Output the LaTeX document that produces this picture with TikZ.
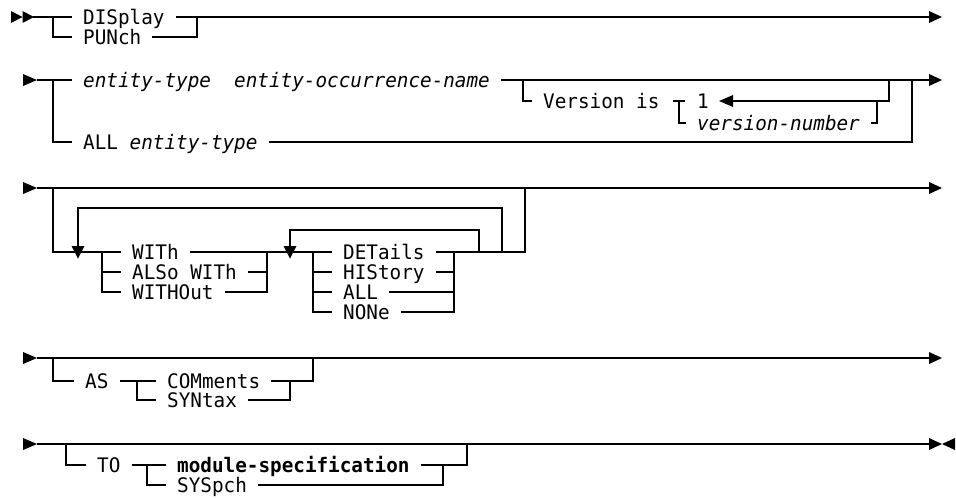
\documentclass[tikz,border=0pt]{standalone}
\usepackage{fontspec}
\newfontfamily\rrfont{DejaVu Sans Mono}[FakeStretch=0.965]

\tikzset{
  track/.style={line width=1.9pt},
  kw/.style={font=\rrfont\fontsize{20}{21}\selectfont, inner xsep=11pt, inner ysep=0pt,
             text height=14.6pt, text depth=0pt, anchor=west},
  var/.style={kw, font=\rrfont\itshape\fontsize{20}{21}\selectfont},
  req/.style={kw, font=\rrfont\bfseries\fontsize{20}{21}\selectfont},
}

\begin{document}
\begin{tikzpicture}[x=1pt,y=-1pt]
\useasboundingbox (0,0) rectangle (956,498);

% ---------------- row 1: DISplay / PUNch
\fill (11,11) -- (22.5,17) -- (11,23) -- cycle;
\fill (22.5,11) -- (34,17) -- (22.5,23) -- cycle;
\coordinate (a0) at (33,17);
\coordinate (a1) at (53,17);
\coordinate (a2) at (197,17);
\coordinate (aend) at (930,17);
\node[kw] (dis) at (72,17) {DISplay};
\node[kw] (pun) at (72,37) {PUNch};
\draw[track] (a0) -- (dis.west);
\draw[track] (a1) |- (pun.west);
\draw[track] (dis.east) -- (aend);
\draw[track] (pun.east) -| (a2);
\fill (929,11) -- (942,17) -- (929,23) -- cycle;

% ---------------- row 2: entity selection
\fill (23,74) -- (37,80) -- (23,86) -- cycle;
\coordinate (b0) at (37,80);
\coordinate (b1) at (53,80);
\coordinate (b2) at (523,80);
\coordinate (b3) at (889,80);
\coordinate (b4) at (912,80);
\coordinate (bend) at (930,80);
\node[var] (ent) at (72,80) {entity-type\ \ entity-occurrence-name};
\node[kw] (allt) at (72,142) {ALL \itshape entity-type};
\node[kw] (ver) at (532,101) {Version is};
\draw[track] (b0) -- (ent.west);
\draw[track] (b1) |- (allt.west);
\draw[track] (ent.east) -- (bend);
\draw[track] (b2) |- (ver.west);
\draw[track] (allt.east) -| (b4);
\fill (929,74) -- (942,80) -- (929,86) -- cycle;
% version number choice with default
\coordinate (c0) at (673,101);
\coordinate (c1) at (685,101);
\coordinate (c2) at (679,101);
\coordinate (c3) at (877,101);
\coordinate (c4) at (733,101);
\node[kw] (one) at (686,101) {1};
\node[var] (vnum) at (686,123) {version-number};
\draw[track] (c0) -- (c1);
\draw[track] (c2) |- (vnum.west);
\draw[track] (vnum.east) -| (c3);
\draw[track] (b3) |- (c4);
\fill (719,101) -- (733,95) -- (733,107) -- cycle;

% ---------------- row 3: WITh / DETails repeat groups
\fill (23,182) -- (37,188) -- (23,194) -- cycle;
\coordinate (d0) at (37,188);
\coordinate (d1) at (53,188);
\coordinate (dend) at (930,188);
\draw[track] (d0) -- (dend);
\fill (929,182) -- (942,188) -- (929,194) -- cycle;
\node[kw] (wit)  at (121,252) {WITh};
\node[kw] (also) at (121,272) {ALSo WITh};
\node[kw] (wout) at (121,292) {WITHOut};
\node[kw] (det)  at (332,252) {DETails};
\node[kw] (hist) at (332,272) {HIStory};
\node[kw] (allx) at (332,292) {ALL};
\node[kw] (none) at (332,312) {NONe};
\coordinate (e1) at (102,252);
\coordinate (e2) at (267,252);
\coordinate (e3) at (313,252);
\coordinate (e4) at (454,252);
\coordinate (e5) at (479,252);
\coordinate (e6) at (502,252);
\coordinate (e7) at (525,188);
\coordinate (l1) at (502,208);
\coordinate (l2) at (78,208);
\coordinate (l3) at (78,247);
\coordinate (m1) at (479,230);
\coordinate (m2) at (290,230);
\coordinate (m3) at (290,247);
\draw[track] (d1) |- (wit.west);
\draw[track] (also.west) -| (e1);
\draw[track] (wout.west) -| (e1);
\draw[track] (wit.east) -- (det.west);
\draw[track] (also.east) -| (e2);
\draw[track] (wout.east) -| (e2);
\draw[track] (hist.west) -| (e3);
\draw[track] (allx.west) -| (e3);
\draw[track] (none.west) -| (e3);
\draw[track] (hist.east) -| (e4);
\draw[track] (allx.east) -| (e4);
\draw[track] (none.east) -| (e4);
\draw[track] (det.east) -| (e7);
\draw[track] (e6) -- (l1) -- (l2) -- (l3);
\draw[track] (e5) -- (m1) -- (m2) -- (m3);
\fill (71.5,246) -- (84.5,246) -- (78,258.5) -- cycle;
\fill (283.5,246) -- (296.5,246) -- (290,258.5) -- cycle;

% ---------------- row 4: AS COMments / SYNtax
\fill (23,352) -- (37,358) -- (23,364) -- cycle;
\coordinate (f0) at (37,358);
\coordinate (f1) at (53,358);
\coordinate (f2) at (137,381);
\coordinate (f3) at (290,381);
\coordinate (f4) at (313,358);
\coordinate (fend) at (930,358);
\node[kw] (as)  at (74,381)  {AS};
\node[kw] (com) at (156,381) {COMments};
\node[kw] (syn) at (156,400) {SYNtax};
\draw[track] (f0) -- (fend);
\draw[track] (f1) |- (as.west);
\draw[track] (as.east) -- (com.west);
\draw[track] (syn.west) -| (f2);
\draw[track] (com.east) -| (f4);
\draw[track] (syn.east) -| (f3);
\fill (929,352) -- (942,358) -- (929,364) -- cycle;

% ---------------- row 5: TO module-specification / SYSpch
\fill (23,438) -- (37,444) -- (23,450) -- cycle;
\coordinate (g0) at (37,444);
\coordinate (g1) at (66,444);
\coordinate (g2) at (147,465);
\coordinate (g3) at (443,465);
\coordinate (g4) at (467,444);
\coordinate (gend) at (930,444);
\node[kw]  (to)  at (86,465)  {TO};
\node[req] (mod) at (166,465) {module-specification};
\node[kw]  (sys) at (166,485) {SYSpch};
\draw[track] (g0) -- (gend);
\draw[track] (g1) |- (to.west);
\draw[track] (to.east) -- (mod.west);
\draw[track] (sys.west) -| (g2);
\draw[track] (mod.east) -| (g4);
\draw[track] (sys.east) -| (g3);
\fill (929,438) -- (942,444) -- (929,450) -- cycle;
\fill (955,438) -- (942,444) -- (955,450) -- cycle;
\end{tikzpicture}
\end{document}
